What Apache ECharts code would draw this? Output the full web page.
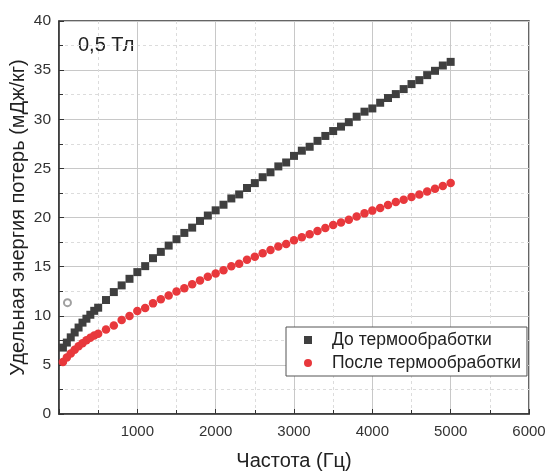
<!DOCTYPE html>
<html><head><meta charset="utf-8">
<script src="https://cdn.jsdelivr.net/npm/echarts@6/dist/echarts.min.js"></script>
<style>html,body{margin:0;padding:0;background:#fff}#c{width:547px;height:472px}</style>
</head><body><div id="c"></div>
<script>
const freqBefore = [50,100,150,200,250,300,350,400,450,500,600,700,800,900,1000,1100,1200,1300,1400,1500,1600,1700,1800,1900,2000,2100,2200,2300,2400,2500,2600,2700,2800,2900,3000,3100,3200,3300,3400,3500,3600,3700,3800,3900,4000,4100,4200,4300,4400,4500,4600,4700,4800,4900,5000];
const lossBefore = [6.76,7.27,7.8,8.3,8.8,9.3,9.7,10.1,10.5,10.82,11.6,12.41,13.09,13.76,14.44,15.05,15.86,16.5,17.14,17.79,18.43,18.97,19.65,20.2,20.73,21.3,21.94,22.35,23.0,23.5,24.1,24.6,25.2,25.6,26.27,26.8,27.2,27.8,28.3,28.8,29.25,29.7,30.26,30.77,31.1,31.68,32.16,32.56,33.07,33.58,33.98,34.49,34.93,35.47,35.84];
const freqAfter = [50,100,150,200,250,300,350,400,450,500,600,700,800,900,1000,1100,1200,1300,1400,1500,1600,1700,1800,1900,2000,2100,2200,2300,2400,2500,2600,2700,2800,2900,3000,3100,3200,3300,3400,3500,3600,3700,3800,3900,4000,4100,4200,4300,4400,4500,4600,4700,4800,4900,5000];
const lossAfter = [5.3,5.75,6.15,6.55,6.9,7.2,7.5,7.75,7.98,8.18,8.6,9.0,9.57,9.97,10.48,10.8,11.26,11.67,12.07,12.48,12.8,13.2,13.6,13.96,14.3,14.64,15.05,15.3,15.7,16.0,16.36,16.7,17.04,17.3,17.68,18.0,18.3,18.63,18.93,19.24,19.5,19.78,20.1,20.42,20.7,20.96,21.27,21.57,21.8,22.08,22.35,22.65,22.93,23.2,23.5];
const outlierFreq = [108];
const outlierLoss = [11.33];
const seriesNames = ['До термообработки','После термообработки'];
const annotation = '0,5 Тл';
const xTitle = 'Частота (Гц)';
const yTitle = 'Удельная энергия потерь (мДж/кг)';

const zip = (a,b) => a.map((v,i)=>[v,b[i]]);
const FONT = 'Liberation Sans, Arial, sans-serif';
const chart = echarts.init(document.getElementById('c'), null, {renderer:'canvas'});
const axisCommon = {
  axisLine:{show:true,lineStyle:{color:'#333',width:1.5}},
  axisTick:{show:true,inside:true,length:5,lineStyle:{color:'#333'}},
  minorTick:{show:true,splitNumber:2,length:4,lineStyle:{color:'#333'}},
  splitLine:{show:true,lineStyle:{color:'#c8c8c8',width:1}},
  minorSplitLine:{show:true,lineStyle:{color:'#dcdcdc',type:[3,3],width:1}}
};
chart.setOption({
  animation:false,
  backgroundColor:'#fff',
  grid:{left:59,right:18,top:21,bottom:58,containLabel:false,outerBoundsMode:'none',
    show:true,borderColor:'#333',borderWidth:1.5,backgroundColor:'transparent'},
  xAxis:Object.assign({type:'value',min:0,max:6000,interval:1000,
    name:xTitle,nameLocation:'middle',nameGap:37,nameMoveOverlap:false,
    nameTextStyle:{color:'#222',fontSize:20,fontFamily:FONT}},axisCommon,
    {axisLabel:{color:'#333',fontSize:15,fontFamily:FONT,margin:10,showMinLabel:false,formatter:v=>String(v)}}),
  yAxis:Object.assign({type:'value',min:0,max:40,interval:5,
    name:yTitle,nameLocation:'middle',nameGap:31,nameMoveOverlap:false,
    nameTextStyle:{color:'#222',fontSize:20,fontFamily:FONT}},axisCommon,
    {axisLabel:{color:'#333',fontSize:15.5,fontFamily:FONT,margin:8,formatter:v=>String(v)}}),
  legend:{
    data:[{name:seriesNames[0],icon:'rect'},{name:seriesNames[1],icon:'circle'}],
    orient:'vertical',left:286,top:327,
    itemWidth:8,itemHeight:8,itemGap:5,
    padding:[4,6,4,18],
    borderColor:'#555',borderWidth:1,backgroundColor:'#fff',
    textStyle:{color:'#222',fontSize:17.5,fontFamily:FONT,padding:[0,0,0,15]}
  },
  graphic:[{type:'text',left:78,top:35,style:{text:annotation,fill:'#222',fontSize:20,fontFamily:FONT}}],
  series:[
    {name:seriesNames[0],type:'scatter',symbol:'rect',symbolSize:8,
      itemStyle:{color:'#3f3f3f',opacity:1},data:zip(freqBefore,lossBefore),z:3},
    {name:seriesNames[1],type:'scatter',symbol:'circle',symbolSize:8.5,
      itemStyle:{color:'#e8383c',opacity:1},data:zip(freqAfter,lossAfter),z:3},
    {name:'outlier',type:'scatter',symbol:'emptyCircle',symbolSize:7,
      itemStyle:{color:'#888',borderColor:'#888',borderWidth:1},data:zip(outlierFreq,outlierLoss),z:3}
  ]
});
</script></body></html>
